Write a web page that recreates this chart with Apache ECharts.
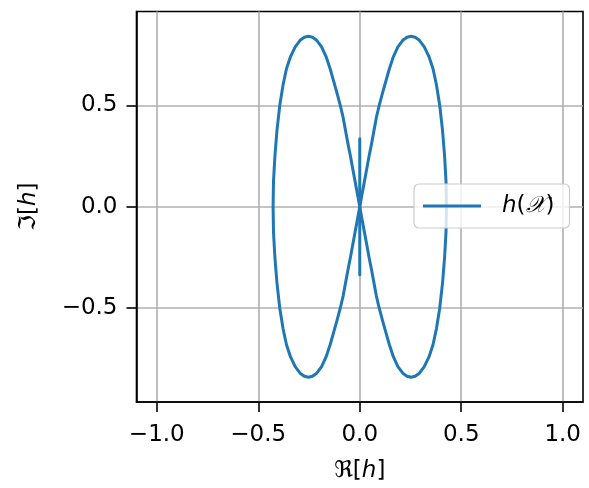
<!DOCTYPE html>
<html>
<head>
<meta charset="utf-8">
<script src="https://cdn.jsdelivr.net/npm/echarts@6/dist/echarts.min.js"></script>
<style>
html,body{margin:0;padding:0;background:#fff;}
#c{width:589px;height:488px;}
</style>
</head>
<body>
<div id="c"></div>
<script>
// Curve points (Re[h], Im[h])
const leftLobe = [
  [0,0],[-0.011,0.06],[-0.023,0.125],[-0.035,0.19],[-0.046,0.25],[-0.058,0.31],[-0.070,0.375],
  [-0.082,0.44],[-0.096,0.5],[-0.112,0.56],[-0.129,0.62],[-0.146,0.68],
  [-0.166,0.74],[-0.188,0.788],[-0.212,0.82],[-0.233,0.835],[-0.253,0.84],[-0.273,0.835],
  [-0.294,0.82],[-0.318,0.788],[-0.341,0.74],[-0.361,0.68],[-0.378,0.6],[-0.394,0.5],
  [-0.408,0.375],[-0.418,0.25],[-0.425,0.125],[-0.427,0],[-0.425,-0.125],[-0.418,-0.25],
  [-0.408,-0.375],[-0.394,-0.5],[-0.378,-0.6],[-0.361,-0.68],[-0.341,-0.74],[-0.318,-0.788],
  [-0.294,-0.82],[-0.273,-0.835],[-0.253,-0.84],[-0.233,-0.835],[-0.212,-0.82],[-0.188,-0.788],
  [-0.166,-0.74],[-0.146,-0.68],[-0.129,-0.62],[-0.112,-0.56],[-0.096,-0.5],[-0.082,-0.44],
  [-0.070,-0.375],[-0.058,-0.31],[-0.046,-0.25],[-0.035,-0.19],[-0.023,-0.125],[-0.011,-0.06],[0,0]
];
const rightLobe = [
  [0,0],[0.011,0.06],[0.023,0.125],[0.035,0.19],[0.046,0.25],[0.058,0.31],[0.070,0.375],
  [0.082,0.44],[0.096,0.5],[0.112,0.56],[0.129,0.62],[0.146,0.68],
  [0.166,0.74],[0.188,0.788],[0.212,0.82],[0.233,0.835],[0.253,0.84],[0.273,0.835],
  [0.294,0.82],[0.318,0.788],[0.341,0.74],[0.361,0.68],[0.378,0.6],[0.394,0.5],
  [0.408,0.375],[0.418,0.25],[0.425,0.125],[0.427,0],[0.425,-0.125],[0.418,-0.25],
  [0.408,-0.375],[0.394,-0.5],[0.378,-0.6],[0.361,-0.68],[0.341,-0.74],[0.318,-0.788],
  [0.294,-0.82],[0.273,-0.835],[0.253,-0.84],[0.233,-0.835],[0.212,-0.82],[0.188,-0.788],
  [0.166,-0.74],[0.146,-0.68],[0.129,-0.62],[0.112,-0.56],[0.096,-0.5],[0.082,-0.44],
  [0.070,-0.375],[0.058,-0.31],[0.046,-0.25],[0.035,-0.19],[0.023,-0.125],[0.011,-0.06],[0,0]
];
const spike = [[0,0.335],[0,-0.335]];
const xTicks = [-1.0,-0.5,0.0,0.5,1.0];
const yTicks = [-0.5,0.0,0.5];
const seriesName = 'h(𝒳)';

const FONT = 'DejaVu Sans';
const BLUE = '#1f77b4';
const chart = echarts.init(document.getElementById('c'), null, {renderer:'canvas'});
const curve = leftLobe.concat(rightLobe.slice(1));
const fmt = v => (v < 0 ? '\u2212' : '') + Math.abs(v).toFixed(1);
const lineSeries = (data) => ({
  name: seriesName, type: 'line', data: data, symbol: 'none', showSymbol: false,
  smooth: false, lineStyle: {color: BLUE, width: 3, join: 'round', cap: 'round'}, itemStyle: {color: BLUE},
  silent: true, animation: false, z: 3
});
chart.setOption({
  backgroundColor: '#fff',
  animation: false,
  textStyle: {fontFamily: FONT},
  grid: {left: 136.5, top: 11.5, width: 446.5, height: 393, show: true,
         borderColor: '#000', borderWidth: 1.6, backgroundColor: 'transparent', containLabel: false},
  legend: {
    left: 414, top: 184, orient: 'vertical',
    padding: [10, 15, 10, 9],
    itemWidth: 58, itemHeight: 3, icon: 'rect',
    borderColor: '#cccccc', borderWidth: 1.2, borderRadius: 5,
    backgroundColor: 'rgba(255,255,255,0.8)',
    data: [seriesName],
    formatter: () => '{i|h}({s|𝒳})',
    textStyle: {fontFamily: FONT, fontSize: 23, color: '#000', padding: [0,0,0,16], lineHeight: 24,
      rich: {i: {fontStyle: 'italic', fontSize: 23, fontFamily: FONT},
             s: {fontStyle: 'italic', fontSize: 23, fontFamily: FONT}}}
  },
  xAxis: {
    type: 'value', min: -1.1, max: 1.1,
    name: '{r|ℜ}[{i|h}]', nameLocation: 'middle', nameGap: 58,
    nameTextStyle: {fontFamily: FONT, fontSize: 23, color: '#000',
      rich: {r: {fontSize: 23, fontFamily: FONT}, i: {fontStyle: 'italic', fontSize: 23, fontFamily: FONT}}},
    axisLine: {show: true, onZero: false, lineStyle: {color: '#000', width: 1.6}},
    axisTick: {show: true, inside: false, length: 10, customValues: xTicks, lineStyle: {color: '#000', width: 1.6}},
    axisLabel: {show: true, margin: 22, customValues: xTicks, formatter: fmt, fontSize: 23, fontFamily: FONT, color: '#000'},
    splitLine: {show: true, lineStyle: {color: '#b0b0b0', width: 1.6}}
  },
  yAxis: {
    type: 'value', min: -0.962, max: 0.962,
    name: '{r|ℑ}[{i|h}]', nameLocation: 'middle', nameGap: 96, nameRotate: 90,
    nameTextStyle: {fontFamily: FONT, fontSize: 23, color: '#000',
      rich: {r: {fontSize: 23, fontFamily: FONT}, i: {fontStyle: 'italic', fontSize: 23, fontFamily: FONT}}},
    axisLine: {show: true, onZero: false, lineStyle: {color: '#000', width: 1.6}},
    axisTick: {show: true, inside: false, length: 10, customValues: yTicks, lineStyle: {color: '#000', width: 1.6}},
    axisLabel: {show: true, margin: 19, customValues: yTicks, formatter: fmt, fontSize: 23, fontFamily: FONT, color: '#000'},
    splitLine: {show: true, lineStyle: {color: '#b0b0b0', width: 1.6}}
  },
  series: [lineSeries(curve), lineSeries(spike)]
});
</script>
</body>
</html>
